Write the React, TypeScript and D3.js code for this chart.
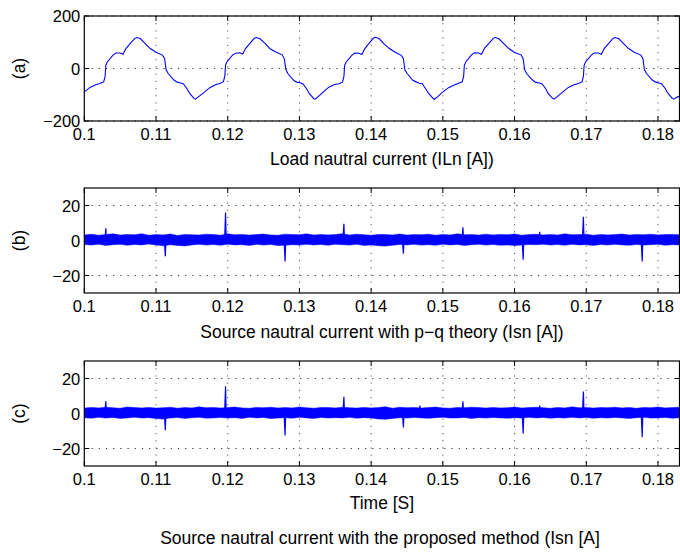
import React from "react";
import * as d3 from "d3";

// ---------- data ----------
const xTicks = [0.1, 0.11, 0.12, 0.13, 0.14, 0.15, 0.16, 0.17, 0.18];
const xDomain = [0.1, 0.183];
const yTicksA = [-200, 0, 200];
const yTicksBC = [-20, 0, 20];
const panelLetters = ["(a)", "(b)", "(c)"];
const panelTitles = [
  "Load nautral current (ILn [A])",
  "Source nautral current with p\u2212q theory (Isn [A])",
  "Time [S]",
];
const caption = "Source nautral current with the proposed method (Isn [A]";

// (a) load neutral current, time [s] / value [A]
const loadT = [
  0.1000, 0.1008, 0.1016, 0.1022, 0.1027, 0.1029, 0.1030, 0.1032, 0.1040, 0.1044, 0.1050, 0.1054, 0.1058, 0.1064, 0.1070, 0.1073, 0.1078, 0.1085, 0.1092, 0.1100, 0.1109, 0.1112, 0.1114, 0.1117, 0.1125, 0.1129, 0.1134, 0.1138, 0.1143, 0.1147, 0.1153, 0.1155, 0.1160,
  0.1167, 0.1175, 0.1183, 0.1189, 0.1194, 0.1196, 0.1197, 0.1199, 0.1207, 0.1211, 0.1217, 0.1221, 0.1225, 0.1231, 0.1237, 0.1240, 0.1245, 0.1252, 0.1259, 0.1267, 0.1276, 0.1279, 0.1281, 0.1284, 0.1292, 0.1296, 0.1301, 0.1305, 0.1310, 0.1314, 0.1320, 0.1322, 0.1327,
  0.1333, 0.1341, 0.1349, 0.1355, 0.1360, 0.1362, 0.1363, 0.1365, 0.1373, 0.1377, 0.1383, 0.1387, 0.1391, 0.1397, 0.1403, 0.1406, 0.1411, 0.1418, 0.1425, 0.1433, 0.1442, 0.1445, 0.1447, 0.1450, 0.1458, 0.1462, 0.1467, 0.1471, 0.1476, 0.1480, 0.1486, 0.1488, 0.1493,
  0.1500, 0.1508, 0.1516, 0.1522, 0.1527, 0.1529, 0.1530, 0.1532, 0.1540, 0.1544, 0.1550, 0.1554, 0.1558, 0.1564, 0.1570, 0.1573, 0.1578, 0.1585, 0.1592, 0.1600, 0.1609, 0.1612, 0.1614, 0.1617, 0.1625, 0.1629, 0.1634, 0.1638, 0.1643, 0.1647, 0.1653, 0.1655, 0.1660,
  0.1667, 0.1675, 0.1683, 0.1689, 0.1694, 0.1696, 0.1697, 0.1699, 0.1707, 0.1711, 0.1717, 0.1721, 0.1725, 0.1731, 0.1737, 0.1740, 0.1745, 0.1752, 0.1759, 0.1767, 0.1776, 0.1779, 0.1781, 0.1784, 0.1792, 0.1796, 0.1801, 0.1805, 0.1810, 0.1814, 0.1820, 0.1822, 0.1827, 0.1830,
];
const loadV = [
  -89, -72, -62, -57, -51, -30, 12, 25, 51, 59, 59, 54, 76, 95, 114, 118, 114, 95, 76, 62, 51, 38, -4, -19, -44, -51, -55, -58, -76, -95, -114, -117, -106,
  -91, -73, -62, -57, -50, -28, 14, 26, 52, 58, 60, 55, 77, 96, 115, 118, 113, 96, 75, 63, 52, 36, -3, -20, -45, -52, -54, -59, -77, -96, -115, -117, -105,
  -90, -71, -61, -58, -52, -31, 11, 24, 50, 59, 58, 53, 75, 96, 115, 119, 114, 94, 77, 63, 50, 37, -5, -18, -45, -50, -56, -57, -77, -94, -113, -117, -107,
  -89, -73, -63, -56, -51, -29, 13, 25, 52, 60, 59, 54, 77, 95, 114, 119, 113, 95, 76, 61, 52, 37, -4, -20, -44, -52, -55, -58, -75, -96, -114, -117, -106,
  -90, -72, -62, -57, -51, -30, 12, 25, 51, 59, 59, 54, 76, 95, 114, 118, 114, 95, 76, 62, 51, 38, -4, -19, -44, -51, -55, -58, -76, -95, -114, -117, -108, -107,
];

// noise band envelopes sampled every 1 ms from 0.100 s
const bandStart = 0.1;
const bandStep = 0.001;
const upperB = [
  3.2, 3.6, 3.0, 3.4, 3.8, 3.1, 3.5, 3.3, 3.9, 3.0, 3.4, 3.2,
  3.7, 2.9, 3.5, 3.3, 3.1, 3.6, 3.4, 3.0, 3.8, 3.3, 3.5, 3.1,
  3.4, 3.7, 3.2, 3.0, 3.6, 3.4, 3.3, 3.8, 3.1, 3.5, 3.2, 3.4,
  3.9, 3.1, 3.6, 3.3, 3.0, 3.5, 3.4, 3.2, 3.7, 3.1, 3.4, 3.3,
  3.6, 3.0, 3.5, 3.2, 3.8, 3.3, 3.4, 3.1, 3.6, 3.2, 3.5, 3.3,
  3.7, 3.0, 3.4, 3.6, 3.2, 3.5, 3.1, 3.8, 3.3, 3.4, 3.6, 3.0,
  3.5, 3.2, 3.4, 3.7, 3.1, 3.5, 3.3, 3.6, 3.2, 3.4, 3.5, 3.3,
];
const lowerB = [
  -2.3, -2.6, -2.1, -2.8, -2.4, -2.2, -2.7, -2.3, -2.5, -2.0, -2.6, -3.0,
  -2.4, -2.8, -3.1, -2.5, -2.2, -2.6, -2.3, -2.7, -2.1, -2.5, -2.4, -2.8,
  -2.2, -2.6, -2.3, -2.9, -2.7, -2.4, -2.6, -2.2, -2.5, -2.3, -2.7, -2.1,
  -2.4, -2.6, -2.2, -2.8, -2.5, -3.0, -3.2, -2.7, -2.3, -2.5, -2.2, -2.6,
  -2.4, -2.7, -2.1, -2.5, -2.3, -2.8, -2.4, -2.2, -2.6, -2.3, -2.7, -2.5,
  -2.9, -2.6, -2.3, -2.4, -2.1, -2.6, -2.3, -2.7, -2.2, -2.5, -2.4, -2.8,
  -2.3, -2.6, -2.2, -2.5, -2.7, -2.3, -2.6, -2.4, -2.2, -2.7, -2.4, -2.5,
];
const upperC = [
  3.1, 3.5, 3.2, 3.6, 3.3, 3.0, 3.7, 3.4, 3.2, 3.5, 3.1, 3.3,
  3.6, 3.0, 3.4, 3.2, 3.8, 3.3, 3.5, 3.1, 3.4, 3.7, 3.2, 3.0,
  3.5, 3.3, 3.6, 3.1, 3.4, 3.2, 3.7, 3.3, 3.0, 3.5, 3.4, 3.2,
  3.6, 3.3, 3.1, 3.5, 3.2, 3.4, 3.9, 3.0, 3.6, 3.3, 3.5, 3.1,
  3.4, 3.7, 3.2, 3.0, 3.5, 3.3, 3.6, 3.4, 3.1, 3.5, 3.2, 3.3,
  3.7, 3.1, 3.4, 3.6, 3.3, 3.0, 3.5, 3.2, 3.8, 3.3, 3.4, 3.1,
  3.5, 3.3, 3.6, 3.2, 3.4, 3.0, 3.5, 3.3, 3.7, 3.2, 3.4, 3.6,
];
const lowerC = [
  -2.4, -2.7, -2.2, -2.6, -2.3, -2.8, -2.5, -2.1, -2.6, -2.4, -2.9, -3.2,
  -2.6, -2.3, -2.8, -2.4, -2.2, -2.7, -2.5, -2.3, -2.6, -2.4, -2.8, -2.2,
  -2.5, -2.3, -2.9, -2.6, -2.4, -2.7, -2.2, -2.5, -2.8, -2.3, -2.6, -2.4,
  -2.5, -2.2, -2.7, -2.4, -2.6, -3.1, -3.3, -2.8, -2.4, -2.6, -2.3, -2.5,
  -2.7, -2.4, -2.2, -2.6, -2.5, -2.3, -2.8, -2.4, -2.6, -2.3, -2.5, -2.7,
  -2.4, -2.6, -2.2, -2.5, -2.3, -2.7, -2.4, -2.6, -2.2, -2.5, -2.3, -2.7,
  -2.4, -2.6, -2.3, -2.5, -2.8, -2.4, -2.2, -2.6, -2.5, -2.3, -2.7, -2.4,
];

// spikes (time [s], peak value [A])
const spikeTB = [0.1030, 0.1113, 0.1197, 0.1280, 0.1362, 0.1445, 0.1528, 0.1612, 0.1635, 0.1696, 0.1778];
const spikeVB = [7, -9, 16, -12, 9.5, -7.5, 7.5, -11, 5, 13.5, -12];
const spikeTC = [0.1030, 0.1113, 0.1197, 0.1280, 0.1362, 0.1445, 0.1468, 0.1528, 0.1612, 0.1635, 0.1696, 0.1778];
const spikeVC = [7, -9.5, 15.5, -12.5, 9.5, -8, 4.5, 7, -11.5, 4.5, 12.5, -13.5];

// ---------- layout ----------
const W = 680;
const H = 554;
const X0 = 84.3;
const X1 = 679.5;
const panelTop = [16, 188, 361];
const panelH = 105;
const BLUE = "#0000ff";
const FONT = "'Liberation Sans', Arial, Helvetica, sans-serif";

const x = d3.scaleLinear().domain(xDomain).range([X0, X1]);

function Axes({ top, yScale, yTicks }: any) {
  const bottom = top + panelH;
  const fmtY = (v: number) => (v < 0 ? "\u2212" + Math.abs(v) : String(v));
  return (
    <g>
      {xTicks.filter((t) => t > xDomain[0]).map((t) => (
        <line key={"gx" + t} x1={x(t)} x2={x(t)} y1={top} y2={bottom}
          stroke="#555" strokeWidth={1} strokeDasharray="1.2,6" />
      ))}
      {yTicks.map((v: number) => (
        <line key={"gy" + v} x1={X0} x2={X1} y1={yScale(v)} y2={yScale(v)}
          stroke="#333" strokeWidth={1} strokeDasharray="1.2,6" />
      ))}
      {xTicks.map((t) => (
        <g key={"tx" + t}>
          <line x1={x(t)} x2={x(t)} y1={bottom} y2={bottom - 5} stroke="#000" />
          <line x1={x(t)} x2={x(t)} y1={top} y2={top + 5} stroke="#000" />
          <text x={x(t)} y={bottom + 19} textAnchor="middle" fontSize={16.5} fontFamily={FONT}>
            {String(t)}
          </text>
        </g>
      ))}
      {yTicks.map((v: number) => (
        <g key={"ty" + v}>
          <line x1={X0} x2={X0 + 5} y1={yScale(v)} y2={yScale(v)} stroke="#000" />
          <line x1={X1} x2={X1 - 5} y1={yScale(v)} y2={yScale(v)} stroke="#000" />
          <text x={X0 - 4} y={yScale(v) + 6} textAnchor="end" fontSize={16.5} fontFamily={FONT}>
            {fmtY(v)}
          </text>
        </g>
      ))}
    </g>
  );
}

function Frame({ top }: any) {
  return (
    <rect x={X0} y={top} width={X1 - X0} height={panelH} fill="none" stroke="#000" strokeWidth={1.2} />
  );
}

function Letter({ top, letter }: any) {
  return (
    <text transform={`translate(25,${top + panelH / 2}) rotate(-90)`} textAnchor="middle"
      fontSize={17.5} fontFamily={FONT}>
      {letter}
    </text>
  );
}

function NoisePanel({ top, upper, lower, spikeT, spikeV, clipId }: any) {
  const y = d3.scaleLinear().domain([-30, 30]).range([top + panelH, top]);
  const area = d3
    .area<number>()
    .x((_, i) => x(bandStart + i * bandStep))
    .y0((_, i) => y(lower[i]))
    .y1((d) => y(d));
  return (
    <g>
      <Axes top={top} yScale={y} yTicks={yTicksBC} />
      <g clipPath={`url(#${clipId})`}>
        <path d={area(upper) || ""} fill={BLUE} stroke={BLUE} strokeWidth={0.5} />
        {spikeT.map((t: number, i: number) => (
          <path key={i}
            d={`M${x(t) - 1},${y(0)} L${x(t)},${y(spikeV[i])} L${x(t) + 0.6},${y(0)}`}
            fill="none" stroke={BLUE} strokeWidth={1.2} />
        ))}
      </g>
    </g>
  );
}

export default function App() {
  const yA = d3.scaleLinear().domain([-200, 200]).range([panelTop[0] + panelH, panelTop[0]]);
  const line = d3
    .line<number>()
    .x((_, i) => x(loadT[i]))
    .y((d) => yA(d));
  return (
    <svg width={W} height={H} style={{ position: "absolute", left: 0, top: 0, background: "#fff" }}>
      <defs>
        {panelTop.map((t, i) => (
          <clipPath key={i} id={"clip" + i}>
            <rect x={X0} y={t} width={X1 - X0} height={panelH} />
          </clipPath>
        ))}
      </defs>
      <rect width={W} height={H} fill="#fff" />
      {/* panel a */}
      <Axes top={panelTop[0]} yScale={yA} yTicks={yTicksA} />
      <g clipPath="url(#clip0)">
        <path d={line(loadV) || ""} fill="none" stroke={BLUE} strokeWidth={1.1} />
      </g>
      <Frame top={panelTop[0]} />
      <Letter top={panelTop[0]} letter={panelLetters[0]} />
      <text x={(X0 + X1) / 2} y={panelTop[0] + panelH + 44} textAnchor="middle" fontSize={17.5} fontFamily={FONT}>
        {panelTitles[0]}
      </text>
      {/* panel b */}
      <NoisePanel top={panelTop[1]} upper={upperB} lower={lowerB} spikeT={spikeTB} spikeV={spikeVB} clipId="clip1" />
      <Frame top={panelTop[1]} />
      <Letter top={panelTop[1]} letter={panelLetters[1]} />
      <text x={(X0 + X1) / 2} y={panelTop[1] + panelH + 45} textAnchor="middle" fontSize={17.5} fontFamily={FONT}>
        {panelTitles[1]}
      </text>
      {/* panel c */}
      <NoisePanel top={panelTop[2]} upper={upperC} lower={lowerC} spikeT={spikeTC} spikeV={spikeVC} clipId="clip2" />
      <Frame top={panelTop[2]} />
      <Letter top={panelTop[2]} letter={panelLetters[2]} />
      <text x={(X0 + X1) / 2} y={panelTop[2] + panelH + 43} textAnchor="middle" fontSize={17.5} fontFamily={FONT}>
        {panelTitles[2]}
      </text>
      <text x={380} y={544} textAnchor="middle" fontSize={17.5} fontFamily={FONT}>
        {caption}
      </text>
    </svg>
  );
}
